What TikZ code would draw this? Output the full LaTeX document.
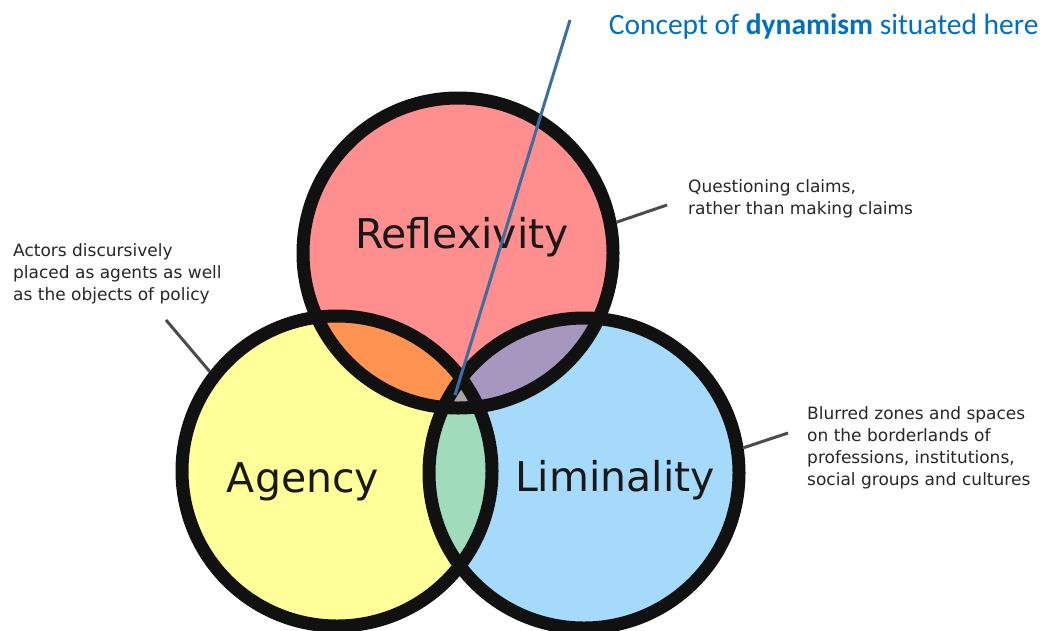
\documentclass[tikz,border=0pt]{standalone}
\usepackage{fontspec}
\setmainfont{DejaVu Sans}
\newfontfamily\calibri{Carlito}

\definecolor{reflcol}{HTML}{FF8F8F}
\definecolor{agencol}{HTML}{FFFF99}
\definecolor{limicol}{HTML}{A6DAFA}
\definecolor{racol}{HTML}{FF9452}
\definecolor{rlcol}{HTML}{A697BE}
\definecolor{alcol}{HTML}{A0DCBC}
\definecolor{midcol}{HTML}{AAA5A5}
\definecolor{ringcol}{HTML}{111111}
\definecolor{dynblue}{HTML}{0070C0}
\definecolor{linkblue}{HTML}{3C6EA0}

\tikzset{
    ring/.style={circle, draw=ringcol, line width=13pt, minimum size=310pt, inner sep=0pt},
    bigword/.style={font=\fontsize{41}{45}\selectfont, text=black!90},
    note/.style={anchor=north west, align=left, inner sep=0pt,
        font=\fontsize{17}{22}\selectfont, text=black!85},
    pointer/.style={draw=black!70, line width=3pt},
}

\begin{document}
\begin{tikzpicture}[x=1pt, y=-1pt]
    \useasboundingbox (0,0) rectangle (1056,630);

    % circle centres
    \coordinate (c-refl) at (458,253);
    \coordinate (c-agen) at (337,471);
    \coordinate (c-limi) at (584,473);

    % fills and overlaps
    \fill[reflcol] (c-refl) circle (155pt);
    \fill[agencol] (c-agen) circle (155pt);
    \fill[limicol] (c-limi) circle (155pt);
    \begin{scope}
        \clip (c-refl) circle (155pt);
        \fill[racol] (c-agen) circle (155pt);
        \fill[rlcol] (c-limi) circle (155pt);
        \clip (c-agen) circle (155pt);
        \fill[midcol] (c-limi) circle (155pt);
    \end{scope}
    \begin{scope}
        \clip (c-agen) circle (155pt);
        \clip (c-limi) circle (155pt);
        \fill[alcol] (c-limi) circle (160pt);
        \fill[midcol] (c-refl) circle (155pt);
    \end{scope}

    % outlines
    \node[ring] (refl) at (c-refl) {};
    \node[ring] (agen) at (c-agen) {};
    \node[ring] (limi) at (c-limi) {};

    \node[bigword] (refl-word) at (462,237) {Reflexivity};
    \node[bigword] (agen-word) at (303,482) {Agency};
    \node[bigword] (limi-word) at (615,480) {Liminality};

    % notes
    \node[note] (refl-note) at (688,179) {Questioning claims,\\rather than making claims};
    \node[note] (agen-note) at (13,243) {Actors discursively\\placed as agents as well\\as the objects of policy};
    \node[note] (limi-note) at (807,406) {Blurred zones and spaces\\on the borderlands of\\professions, institutions,\\social groups and cultures};

    \coordinate (refl-end) at (667,205);
    \coordinate (agen-end) at (166,320);
    \coordinate (limi-end) at (788,433);
    \draw[pointer] (refl.11) -- (refl-end);
    \draw[pointer] (agen.142) -- (agen-end);
    \draw[pointer] (limi.9) -- (limi-end);

    % dynamism
    \node[text=dynblue, font=\calibri\fontsize{29.5}{32}\selectfont, anchor=east] (dyn) at (1042,27)
        {Concept of \textbf{dynamism} situated here};
    \coordinate (dyn-top) at (570,20);
    \coordinate (dyn-mid) at (455,395);
    \draw[linkblue, line width=3pt] (dyn-top) -- (dyn-mid);
\end{tikzpicture}
\end{document}
